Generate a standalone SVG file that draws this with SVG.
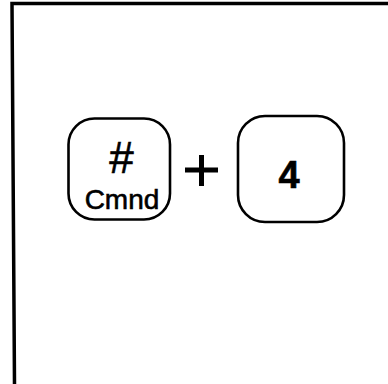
<svg xmlns="http://www.w3.org/2000/svg" width="388" height="384" viewBox="0 0 388 384">
<style>
.key{fill:none;stroke:#000;stroke-width:2.6}
.frame{fill:none;stroke:#000;stroke-width:3.5}
.t{font-family:"Liberation Sans",Arial,sans-serif;fill:#000;text-anchor:middle;stroke:#000;stroke-width:0.6}
</style>
<rect width="388" height="384" fill="#fff"/>
<g id="frame">
<polyline class="frame" points="388,3.5 12,3.5 14.5,384"/>
</g>
<g id="key-cmnd">
<rect class="key" x="68.5" y="118.5" width="101.5" height="101" rx="26"/>
<text class="t" x="121.5" y="173" font-size="44" stroke-width="0">#</text>
<text class="t" x="122" y="209" font-size="28">Cmnd</text>
</g>
<g id="plus">
<path d="M185 170H218M201.5 155V186" stroke="#000" stroke-width="5" fill="none"/>
</g>
<g id="key-4">
<rect class="key" x="238" y="116" width="106" height="106" rx="27"/>
<text class="t" x="289" y="188" font-size="38" font-weight="bold">4</text>
</g>
<g id="connectors"></g>
</svg>
